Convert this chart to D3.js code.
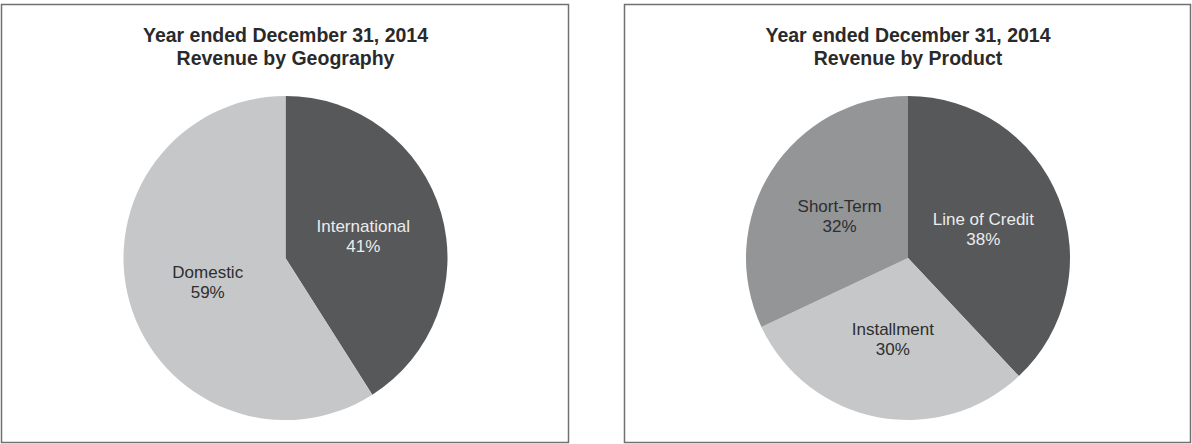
<!DOCTYPE html>
<html>
<head>
<meta charset="utf-8">
<script src="https://cdn.jsdelivr.net/npm/d3@7"></script>
<style>
  body { margin: 0; background: #fff; }
  svg { display: block; }
</style>
</head>
<body>
<div id="chart"></div>
<script>
// Chart data
const titleLine1 = "Year ended December 31, 2014";
const geoTitle = "Revenue by Geography";
const geoLabels = ["International", "Domestic"];
const geoValues = [41, 59];

const productTitle = "Revenue by Product";
const productLabels = ["Line of Credit", "Installment", "Short-Term"];
const productValues = [38, 30, 32];

// Page size
const W = 1192, H = 444;

const svg = d3.select("#chart")
    .append("svg")
    .attr("width", W)
    .attr("height", H);

// slice fill + label colour by category
const fillColor = d3.scaleOrdinal()
    .domain(["International", "Domestic", "Line of Credit", "Installment", "Short-Term"])
    .range(["#56585a", "#c5c7c9", "#56585a", "#c5c7c9", "#939597"]);
const textColor = d3.scaleOrdinal()
    .domain(["International", "Domestic", "Line of Credit", "Installment", "Short-Term"])
    .range(["#ececec", "#2e2e2e", "#ececec", "#2e2e2e", "#2e2e2e"]);

const radius = 162;

function drawPanel(x0, x1, title, labels, values) {
    const g = svg.append("g");

    // panel frame
    g.append("rect")
        .attr("x", x0)
        .attr("y", 4.5)
        .attr("width", x1 - x0)
        .attr("height", 438)
        .attr("fill", "#fff")
        .attr("stroke", "#707070")
        .attr("stroke-width", 1.5);

    const cx = (x0 + x1) / 2 + 0.5;
    const cy = 258;

    // titles
    g.append("text")
        .attr("x", cx)
        .attr("y", 42)
        .attr("text-anchor", "middle")
        .attr("font-family", "Liberation Sans, Arial, sans-serif")
        .attr("font-size", "19.5px")
        .attr("font-weight", "bold")
        .attr("fill", "#2a2a2a")
        .text(titleLine1);
    g.append("text")
        .attr("x", cx)
        .attr("y", 65)
        .attr("text-anchor", "middle")
        .attr("font-family", "Liberation Sans, Arial, sans-serif")
        .attr("font-size", "19.5px")
        .attr("font-weight", "bold")
        .attr("fill", "#2a2a2a")
        .text(title);

    const data = labels.map((l, i) => ({ label: l, value: values[i] }));
    const pie = d3.pie().sort(null).value(d => d.value);
    const arc = d3.arc().innerRadius(0).outerRadius(radius);

    const slices = g.append("g")
        .attr("transform", `translate(${cx}, ${cy})`)
        .selectAll(".slice")
        .data(pie(data))
        .enter()
        .append("g")
        .attr("class", "slice");

    slices.append("path")
        .attr("d", arc)
        .attr("fill", d => fillColor(d.data.label));

    const lbl = slices.append("text")
        .attr("transform", d => `translate(${arc.centroid(d)})`)
        .attr("text-anchor", "middle")
        .attr("font-family", "Liberation Sans, Arial, sans-serif")
        .attr("font-size", "17px")
        .attr("fill", d => textColor(d.data.label));
    lbl.append("tspan")
        .attr("x", 0)
        .attr("y", -3)
        .text(d => d.data.label);
    lbl.append("tspan")
        .attr("x", 0)
        .attr("y", 17)
        .text(d => d.data.value + "%");
}

drawPanel(1.5, 568.5, geoTitle, geoLabels, geoValues);
drawPanel(624.5, 1190.5, productTitle, productLabels, productValues);
</script>
</body>
</html>
